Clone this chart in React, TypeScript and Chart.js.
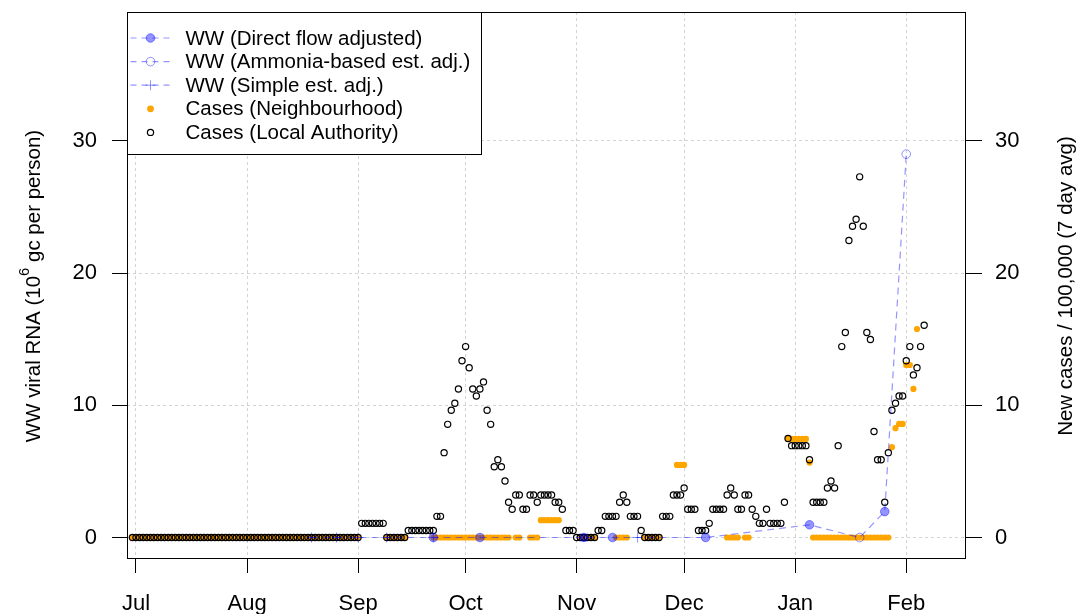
import React, { useEffect, useRef } from "react";
import { Chart, registerables } from "chart.js";

Chart.register(...registerables);

const FONT = "'Liberation Sans', Arial, sans-serif";

// Month ticks on the date axis
const monthLabels = ["Jul", "Aug", "Sep", "Oct", "Nov", "Dec", "Jan", "Feb"];
const monthStarts = ["2020-07-01", "2020-08-01", "2020-09-01", "2020-10-01", "2020-11-01", "2020-12-01", "2021-01-01", "2021-02-01"];
const yTickValues = [0, 10, 20, 30];

// Daily case rates (new cases / 100,000, 7 day avg), one value per day from caseStartDate
const caseStartDate = "2020-06-30";

const casesLocalAuthority = [
  // Jun 30
  0,
  // Jul
  0, 0, 0, 0, 0, 0, 0, 0, 0, 0, 0, 0, 0, 0, 0, 0, 0, 0, 0, 0, 0, 0, 0, 0, 0, 0, 0, 0, 0, 0, 0,
  // Aug
  0, 0, 0, 0, 0, 0, 0, 0, 0, 0, 0, 0, 0, 0, 0, 0, 0, 0, 0, 0, 0, 0, 0, 0, 0, 0, 0, 0, 0, 0, 0,
  // Sep
  0, 1.07, 1.07, 1.07, 1.07, 1.07, 1.07, 1.07, 0, 0, 0, 0, 0, 0, 0.53, 0.53, 0.53, 0.53, 0.53, 0.53, 0.53, 0.53,
  1.6, 1.6, 6.42, 8.56, 9.63, 10.16, 11.23, 13.37,
  // Oct
  14.44, 12.84, 11.23, 10.7, 11.23, 11.77, 9.63, 8.56, 5.35, 5.88, 5.35, 4.28, 2.67, 2.14, 3.21, 3.21,
  2.14, 2.14, 3.21, 3.21, 2.67, 3.21, 3.21, 3.21, 3.21, 2.67, 2.67, 2.14, 0.53, 0.53, 0.53,
  // Nov
  0, 0, 0, 0, 0, 0, 0.53, 0.53, 1.6, 1.6, 1.6, 1.6, 2.67, 3.21, 2.67, 1.6, 1.6, 1.6, 0.53,
  0, 0, 0, 0, 0, 1.6, 1.6, 1.6, 3.21, 3.21, 3.21,
  // Dec
  3.74, 2.14, 2.14, 2.14, 0.53, 0.53, 0.53, 1.07, 2.14, 2.14, 2.14, 2.14, 3.21, 3.74, 3.21, 2.14,
  2.14, 3.21, 3.21, 2.14, 1.6, 1.07, 1.07, 2.14, 1.07, 1.07, 1.07, 1.07, 2.67, 7.49, 6.95,
  // Jan
  6.95, 6.95, 6.95, 6.95, 5.88, 2.67, 2.67, 2.67, 2.67, 3.74, 4.28, 3.74, 6.95, 14.44, 15.51, 22.47,
  23.54, 24.07, 27.28, 23.54, 15.51, 14.98, 8.02, 5.88, 5.88, 2.67, 6.42, 9.63, 10.16, 10.7, 10.7,
  // Feb
  13.37, 14.44, 12.3, 12.84, 14.44, 16.05,
];

const casesNeighbourhood: (number | null)[] = [
  // Jun 30
  0,
  // Jul
  0, 0, 0, 0, 0, 0, 0, 0, 0, 0, 0, 0, 0, 0, 0, 0, 0, 0, 0, 0, 0, 0, 0, 0, 0, 0, 0, 0, 0, 0, 0,
  // Aug
  0, 0, 0, 0, 0, 0, 0, 0, 0, 0, 0, 0, 0, 0, 0, 0, 0, 0, 0, 0, 0, 0, 0, 0, 0, 0, 0, 0, 0, 0, 0,
  // Sep
  0, null, null, null, null, null, null, null, 0, 0, 0, 0, 0, 0, null, null, null, null, null, null, null,
  0, 0, 0, 0, 0, 0, 0, 0, 0,
  // Oct
  0, 0, 0, 0, 0, 0, 0, 0, 0, 0, 0, 0, 0, null, 0, 0, null, null, 0, 0, 0,
  1.31, 1.31, 1.31, 1.31, 1.31, 1.31, null, null, null, null,
  // Nov
  null, 0, 0, 0, 0, 0, null, null, null, null, null, 0, 0, 0, 0, null, null, null, null,
  0, 0, 0, 0, 0, null, null, null, null, 5.49, 5.49,
  // Dec
  5.49, null, null, null, null, null, null, null, null, null, null, null, 0, 0, 0, 0, null, 0, 0,
  null, null, null, null, null, null, null, null, null, null, 7.46, 7.46,
  // Jan
  7.46, 7.46, 7.46, 7.46, 5.67, 0, 0, 0, 0, 0, 0, 0, 0, 0, 0, 0, 0, 0, 0, 0, 0, 0, 0, 0, 0, 0, 0,
  6.83, 8.27, 8.59, 8.59,
  // Feb
  13.05, 13.05, 11.24, 15.77, null, null,
];

// Wastewater viral RNA (10^6 gc per person) by flow adjustment method
const wwDirectDates = ["2020-09-22", "2020-10-05", "2020-11-03", "2020-11-11", "2020-12-07", "2021-01-05", "2021-01-26"];
const wwDirectValues = [0, 0, 0, 0, 0, 0.96, 1.96];
const wwAmmoniaDates = ["2021-01-19", "2021-02-01"];
const wwAmmoniaValues = [0, 29.0];
const wwSimpleDates = ["2020-08-19", "2020-08-26", "2020-09-01", "2020-09-09", "2020-09-22", "2020-11-18"];
const wwSimpleValues = [0, 0, 0, 0, 0, 0];

const legendLabels = [
  "WW (Direct flow adjusted)",
  "WW (Ammonia-based est. adj.)",
  "WW (Simple est. adj.)",
  "Cases (Neighbourhood)",
  "Cases (Local Authority)",
];

const WW_COLOR = "rgba(0, 0, 255, 0.42)";
const WW_FILL = "rgba(0, 0, 255, 0.42)";
const NB_COLOR = "#FFA500";

// day number counted from 1 July 2020
const toDay = (iso: string) => {
  const [y, m, d] = iso.split("-").map(Number);
  return Math.round((Date.UTC(y, m - 1, d) - Date.UTC(2020, 6, 1)) / 86400000);
};

const monthDays = monthStarts.map(toDay);
const caseStart = toDay(caseStartDate);

const laPoints = casesLocalAuthority.map((v, i) => ({ x: caseStart + i, y: v }));
const nbPoints = casesNeighbourhood
  .map((v, i) => ({ x: caseStart + i, y: v }))
  .filter((p) => p.y !== null) as { x: number; y: number }[];

const pair = (dates: string[], values: number[]) => dates.map((d, i) => ({ x: toDay(d), y: values[i] }));
const wwDirect = pair(wwDirectDates, wwDirectValues);
const wwAmmonia = pair(wwAmmoniaDates, wwAmmoniaValues);
const wwSimple = pair(wwSimpleDates, wwSimpleValues);

// one dashed line through every wastewater sample, whatever the method
const wwLine = [...wwDirect, ...wwAmmonia, ...wwSimple]
  .sort((a, b) => a.x - b.x)
  .filter((p, i, arr) => i === 0 || p.x !== arr[i - 1].x);

type Sym = "direct" | "ammonia" | "simple" | "nb" | "la";

const LA_RADIUS = 3.1;
const NB_RADIUS = 3.1;

function drawSymbol(ctx: CanvasRenderingContext2D, sym: Sym, x: number, y: number) {
  ctx.save();
  ctx.setLineDash([]);
  if (sym === "direct") {
    ctx.beginPath();
    ctx.arc(x, y, 4.3, 0, Math.PI * 2);
    ctx.fillStyle = WW_FILL;
    ctx.fill();
    ctx.strokeStyle = WW_COLOR;
    ctx.lineWidth = 1;
    ctx.stroke();
  } else if (sym === "ammonia") {
    ctx.beginPath();
    ctx.arc(x, y, 4.3, 0, Math.PI * 2);
    ctx.strokeStyle = WW_COLOR;
    ctx.lineWidth = 1;
    ctx.stroke();
  } else if (sym === "simple") {
    ctx.beginPath();
    ctx.moveTo(x - 5, y);
    ctx.lineTo(x + 5, y);
    ctx.moveTo(x, y - 5);
    ctx.lineTo(x, y + 5);
    ctx.strokeStyle = WW_COLOR;
    ctx.lineWidth = 1;
    ctx.stroke();
  } else if (sym === "nb") {
    ctx.beginPath();
    ctx.arc(x, y, 3.4, 0, Math.PI * 2);
    ctx.fillStyle = NB_COLOR;
    ctx.fill();
  } else {
    ctx.beginPath();
    ctx.arc(x, y, LA_RADIUS, 0, Math.PI * 2);
    ctx.strokeStyle = "#000";
    ctx.lineWidth = 1.2;
    ctx.stroke();
  }
  ctx.restore();
}

const framePlugin = {
  id: "frame",
  afterDraw(chart: Chart) {
    const { ctx, chartArea: a } = chart;
    ctx.save();

    // plot box
    ctx.strokeStyle = "#000";
    ctx.lineWidth = 1;
    ctx.strokeRect(Math.round(a.left) + 0.5, Math.round(a.top) + 0.5, Math.round(a.right - a.left), Math.round(a.bottom - a.top));

    // left axis title with superscript exponent
    const midY = (a.top + a.bottom) / 2 + 1;
    const size = 20.5;
    ctx.fillStyle = "#000";
    ctx.textBaseline = "alphabetic";
    ctx.textAlign = "left";
    ctx.save();
    ctx.translate(40, midY);
    ctx.rotate(-Math.PI / 2);
    const p1 = "WW viral RNA (10";
    const sup = "6";
    const p2 = " gc per person)";
    ctx.font = `${size}px ${FONT}`;
    const w1 = ctx.measureText(p1).width;
    const w2 = ctx.measureText(p2).width;
    ctx.font = `${size * 0.72}px ${FONT}`;
    const ws = ctx.measureText(sup).width;
    let sx = -(w1 + ws + w2) / 2;
    ctx.font = `${size}px ${FONT}`;
    ctx.fillText(p1, sx, 0);
    sx += w1;
    ctx.font = `${size * 0.72}px ${FONT}`;
    ctx.fillText(sup, sx, -size * 0.52);
    sx += ws;
    ctx.font = `${size}px ${FONT}`;
    ctx.fillText(p2, sx, 0);
    ctx.restore();

    // right axis title
    ctx.save();
    ctx.translate(1072, midY);
    ctx.rotate(-Math.PI / 2);
    ctx.font = `${size}px ${FONT}`;
    ctx.textAlign = "center";
    ctx.fillText("New cases / 100,000 (7 day avg)", 0, 0);
    ctx.restore();

    // legend
    const lx = Math.round(a.left) + 0.5;
    const ly = Math.round(a.top) + 0.5;
    const lw = 354;
    const lh = 142;
    ctx.fillStyle = "#fff";
    ctx.fillRect(lx, ly, lw, lh);
    ctx.strokeStyle = "#000";
    ctx.lineWidth = 1;
    ctx.strokeRect(lx, ly, lw, lh);
    const syms: Sym[] = ["direct", "ammonia", "simple", "nb", "la"];
    ctx.font = `${size}px ${FONT}`;
    ctx.textAlign = "left";
    ctx.textBaseline = "middle";
    legendLabels.forEach((label, i) => {
      const ry = ly + 25.5 + i * 23.6;
      if (i < 3) {
        ctx.save();
        ctx.strokeStyle = WW_COLOR;
        ctx.lineWidth = 1.2;
        ctx.setLineDash([6, 5]);
        ctx.beginPath();
        ctx.moveTo(lx + 3, ry);
        ctx.lineTo(lx + 44, ry);
        ctx.stroke();
        ctx.restore();
      }
      drawSymbol(ctx, syms[i], lx + 23, ry);
      ctx.fillStyle = "#000";
      ctx.fillText(label, lx + 58, ry + 1);
    });

    ctx.restore();
  },
};

const tickFont = { family: FONT, size: 22 };
const gridStyle = { color: "#d3d3d3", lineWidth: 1, tickColor: "#000", tickLength: 15, tickWidth: 1 };

const noVerticalPadding = (s: any) => {
  s.paddingTop = 0;
  s.paddingBottom = 0;
};

export default function App() {
  const ref = useRef<HTMLCanvasElement>(null);

  useEffect(() => {
    const canvas = ref.current;
    if (!canvas) return;
    const chart = new Chart(canvas, {
      type: "scatter",
      data: {
        datasets: [
          {
            label: legendLabels[0],
            data: wwDirect,
            pointStyle: "circle",
            pointRadius: 4.3,
            backgroundColor: WW_FILL,
            borderColor: WW_COLOR,
            borderWidth: 1,
            order: 0,
            clip: false,
          },
          {
            label: legendLabels[1],
            data: wwAmmonia,
            pointStyle: "circle",
            pointRadius: 4.3,
            backgroundColor: "rgba(0,0,0,0)",
            borderColor: WW_COLOR,
            borderWidth: 1,
            order: 0,
            clip: false,
          },
          {
            label: legendLabels[2],
            data: wwSimple,
            pointStyle: "cross",
            pointRadius: 5,
            borderColor: WW_COLOR,
            borderWidth: 1,
            order: 0,
            clip: false,
          },
          {
            label: "WW",
            data: wwLine,
            showLine: true,
            borderColor: WW_COLOR,
            borderWidth: 1.2,
            borderDash: [7, 5],
            pointRadius: 0,
            order: 1,
            clip: false,
          },
          {
            label: legendLabels[4],
            data: laPoints,
            pointStyle: "circle",
            pointRadius: LA_RADIUS,
            backgroundColor: "rgba(0,0,0,0)",
            borderColor: "#000",
            borderWidth: 1.2,
            order: 2,
            clip: false,
          },
          {
            label: legendLabels[3],
            data: nbPoints,
            pointStyle: "circle",
            pointRadius: NB_RADIUS,
            backgroundColor: NB_COLOR,
            borderColor: NB_COLOR,
            borderWidth: 0,
            order: 3,
            clip: false,
          },
        ],
      },
      options: {
        responsive: false,
        animation: false,
        devicePixelRatio: 1,
        events: [],
        layout: { padding: { top: 12, left: 0, right: 0, bottom: 0 } },
        plugins: { legend: { display: false }, tooltip: { enabled: false } },
        scales: {
          x: {
            type: "linear",
            position: "bottom",
            min: -2.51,
            max: 231.4,
            afterBuildTicks: (s: any) => {
              s.ticks = monthDays.map((v) => ({ value: v }));
            },
            afterFit: (s: any) => {
              s.height = 56;
              s.paddingLeft = 0;
              s.paddingRight = 0;
            },
            ticks: {
              callback: (_v: any, i: number) => monthLabels[i],
              font: tickFont,
              color: "#000",
              padding: 18,
              autoSkip: false,
              maxRotation: 0,
            },
            grid: gridStyle,
            border: { display: false, dash: [3, 3] },
          },
          y: {
            position: "left",
            min: -1.55,
            max: 39.75,
            afterBuildTicks: (s: any) => {
              s.ticks = yTickValues.map((v) => ({ value: v }));
            },
            afterFit: (s: any) => {
              s.width = 127;
              noVerticalPadding(s);
            },
            ticks: { font: tickFont, color: "#000", padding: 15, autoSkip: false },
            grid: gridStyle,
            border: { display: false, dash: [3, 3] },
          },
          y2: {
            position: "right",
            min: -1.55,
            max: 39.75,
            afterBuildTicks: (s: any) => {
              s.ticks = yTickValues.map((v) => ({ value: v }));
            },
            afterFit: (s: any) => {
              s.width = 116;
              noVerticalPadding(s);
            },
            ticks: { font: tickFont, color: "#000", padding: 13, autoSkip: false },
            grid: { ...gridStyle, drawOnChartArea: false, tickLength: 17 },
            border: { display: false },
          },
        },
      },
      plugins: [framePlugin],
    } as any);
    return () => chart.destroy();
  }, []);

  return (
    <div style={{ position: "absolute", left: 0, top: 0, width: 1081, height: 614, background: "#fff" }}>
      <canvas ref={ref} width={1081} height={614} style={{ display: "block" }} />
    </div>
  );
}
